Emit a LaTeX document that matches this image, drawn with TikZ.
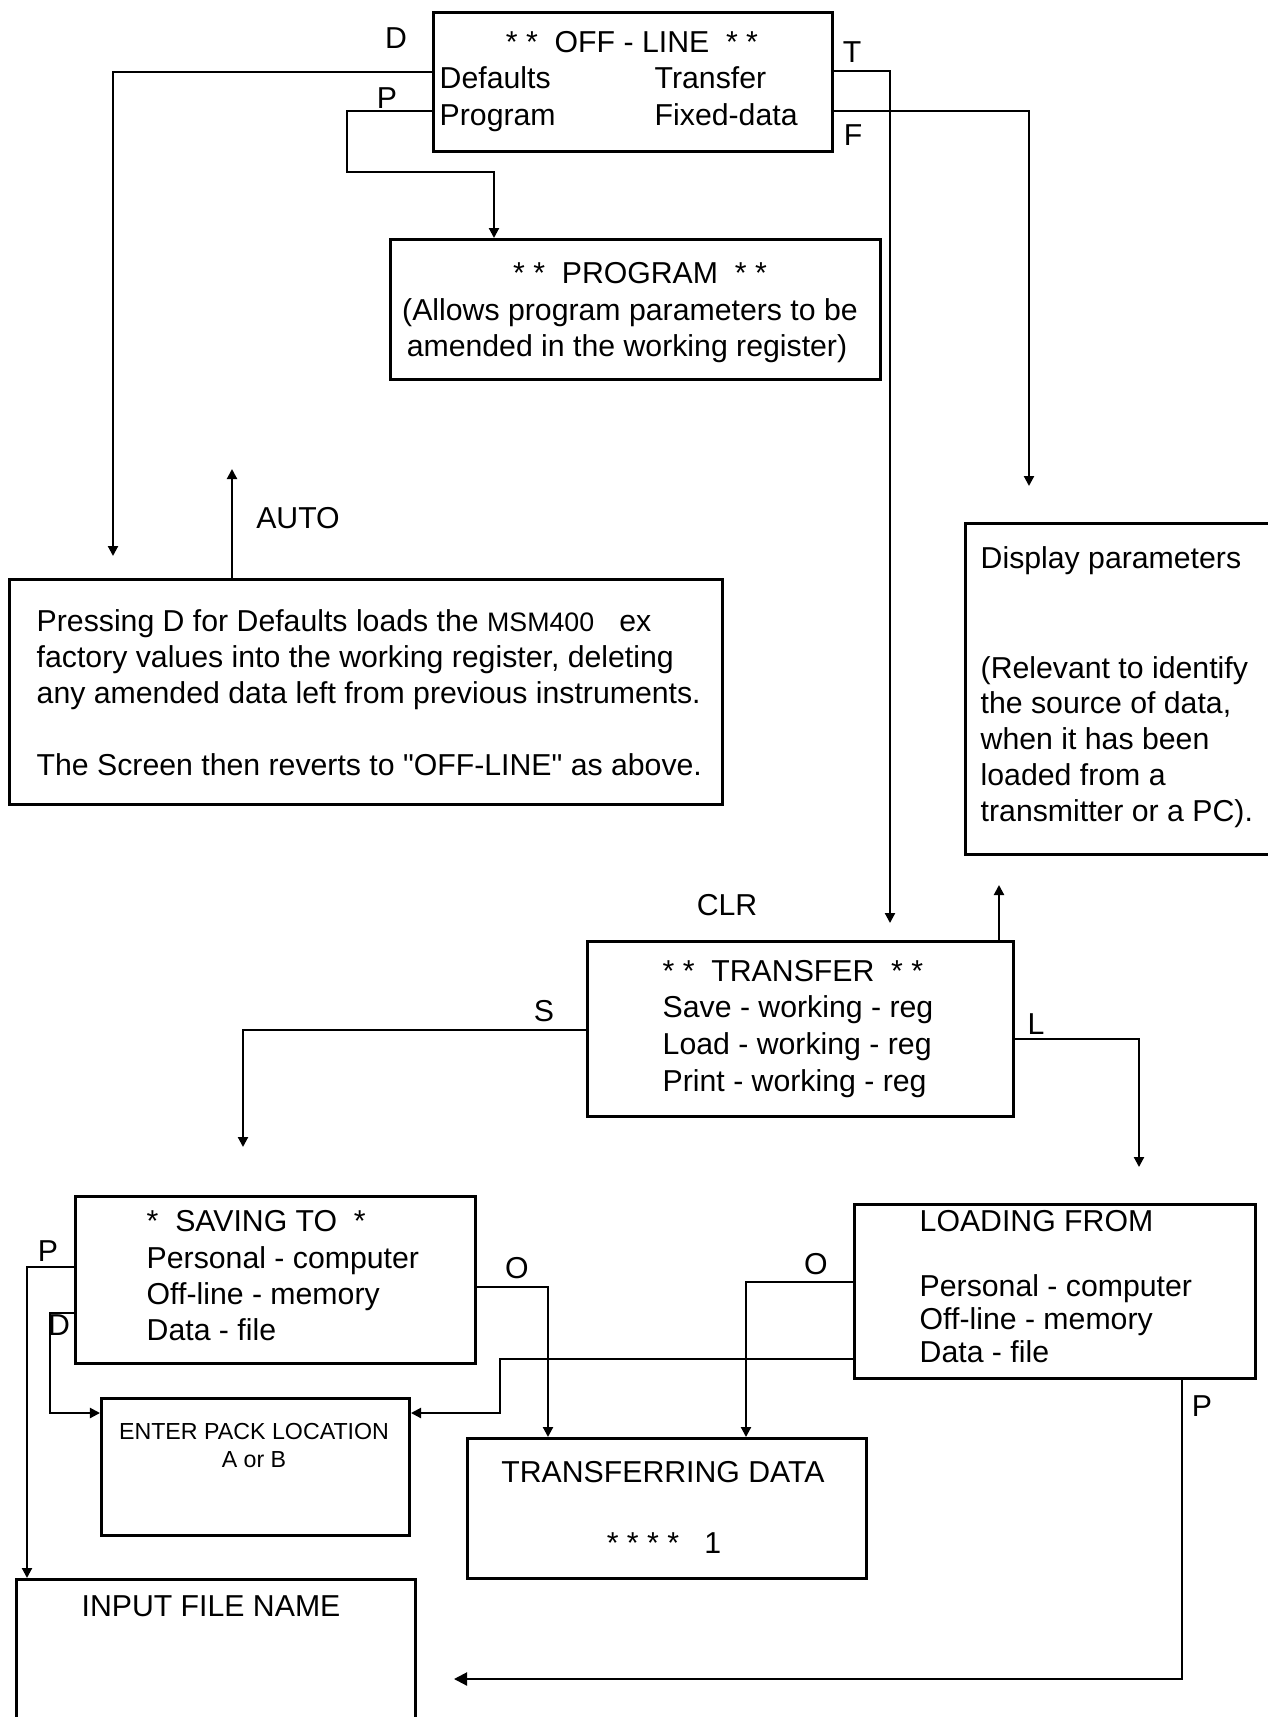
\documentclass[tikz,border=0pt]{standalone}
\usepackage{fontspec}
\setmainfont{Liberation Sans}
\usetikzlibrary{arrows.meta}

\begin{document}
\begin{tikzpicture}[x=0.01cm, y=-0.01cm, font=\fontsize{8.6}{10}\selectfont,
        box/.style={draw, line width=0.8pt, anchor=north west, inner sep=0pt},
        txt/.style={anchor=base west, inner sep=0pt},
        ctr/.style={anchor=base, inner sep=0pt},
        small/.style={font=\fontsize{6.6}{8}\selectfont},
        flow/.style={line width=0.6pt, -{Triangle[length=0.1cm, width=0.1cm]}}]
        \clip (0,0) rectangle (1268,1717);

        \node[box, minimum width=3.99cm, minimum height=1.39cm] (offline) at (432,11) {};
        \node[ctr] (offtitle) at (632,52) {* *\ \ OFF - LINE\ \ * *};
        \node[txt] (defl) at (439,88) {Defaults};
        \node[txt] (progl) at (439,125) {Program};
        \node[txt] (transl) at (654,88) {Transfer};
        \node[txt] (fixl) at (654,125) {Fixed-data};
        \node[ctr] (dkey) at (396,48) {D};
        \node[ctr] (pkey) at (387,108) {P};
        \node[ctr] (tkey) at (852,62) {T};
        \node[ctr] (fkey) at (853,145) {F};

        \node[box, minimum width=4.90cm, minimum height=1.40cm] (program) at (389,238) {};
        \node[ctr] (progtitle) at (640,283) {* *\ \ PROGRAM\ \ * *};
        \node[ctr] (progl1) at (630,320) {(Allows program parameters to be};
        \node[ctr] (progl2) at (627,356) {amended in the working register)};

        \node[box, minimum width=7.13cm, minimum height=2.25cm] (dflt) at (8,578) {};
        \node[txt] (dfltl1) at (36,631) {Pressing D for Defaults loads the {\fontsize{7.6}{9}\selectfont MSM400}\ \ \ ex};
        \node[txt] (dfltl2) at (36,667) {factory values into the working register, deleting};
        \node[txt] (dfltl3) at (36,703) {any amended data left from previous instruments.};
        \node[txt] (dfltl4) at (36,775) {The Screen then reverts to \textquotedbl OFF-LINE\textquotedbl{} as above.};
        \node[ctr] (autokey) at (298,528) {AUTO};

        \node[box, minimum width=3.30cm, minimum height=3.31cm] (display) at (964,522) {};
        \node[txt] (displ1) at (980,568) {Display parameters};
        \node[txt] (displ2) at (980,678) {(Relevant to identify};
        \node[txt] (displ3) at (980,713) {the source of data,};
        \node[txt] (displ4) at (980,749) {when it has been};
        \node[txt] (displ5) at (980,785) {loaded from a};
        \node[txt] (displ6) at (980,821) {transmitter or a PC).};

        \node[box, minimum width=4.26cm, minimum height=1.75cm] (transfer) at (586,940) {};
        \node[txt] (transtitle) at (662,981) {* *\ \ TRANSFER\ \ * *};
        \node[txt] (transl1) at (662,1017) {Save - working - reg};
        \node[txt] (transl2) at (662,1054) {Load - working - reg};
        \node[txt] (transl3) at (662,1091) {Print - working - reg};
        \node[ctr] (clrkey) at (727,915) {CLR};
        \node[ctr] (skey) at (544,1021) {S};
        \node[ctr] (lkey) at (1036,1034) {L};

        \node[box, minimum width=4.00cm, minimum height=1.67cm] (saving) at (74,1195) {};
        \node[txt] (savtitle) at (146,1231) {*\ \ SAVING TO\ \ *};
        \node[txt] (savl1) at (146,1268) {Personal - computer};
        \node[txt] (savl2) at (146,1304) {Off-line - memory};
        \node[txt] (savl3) at (146,1340) {Data - file};
        \node[ctr] (savp) at (48,1261) {P};
        \node[ctr] (savd) at (59,1335) {D};
        \node[ctr] (savo) at (517,1278) {O};

        \node[box, minimum width=4.01cm, minimum height=1.74cm] (loading) at (853,1203) {};
        \node[txt] (loadtitle) at (919,1231) {LOADING FROM};
        \node[txt] (loadl1) at (919,1296) {Personal - computer};
        \node[txt] (loadl2) at (919,1329) {Off-line - memory};
        \node[txt] (loadl3) at (919,1362) {Data - file};
        \node[ctr] (loado) at (816,1274) {O};
        \node[ctr] (loadp) at (1202,1416) {P};

        \node[box, minimum width=3.08cm, minimum height=1.37cm] (enterpack) at (100,1397) {};
        \node[ctr, small] (packl1) at (254,1439) {ENTER PACK LOCATION};
        \node[ctr, small] (packl2) at (254,1467) {A or B};

        \node[box, minimum width=3.99cm, minimum height=1.40cm] (transferring) at (466,1437) {};
        \node[ctr] (tdatal1) at (663,1482) {TRANSFERRING DATA};
        \node[ctr] (tdatal2) at (664,1553) {* * * *\ \ \ 1};

        \node[box, minimum width=3.99cm, minimum height=1.70cm] (inputbox) at (15,1578) {};
        \node[ctr] (inputl) at (211,1616) {INPUT FILE NAME};

        \coordinate (dtip) at (113,556);
        \coordinate (ttip) at (890,923);
        \coordinate (ftip) at (1029,486);
        \coordinate (autotip) at (232,469);
        \coordinate (disptip) at (999,885);
        \coordinate (stip) at (243,1147);
        \coordinate (ltip) at (1139,1167);
        \coordinate (ptip) at (454,1679);

        \draw[flow] (offline.west |- 0,72) -| (dtip);
        \draw[flow] (offline.west |- 0,111) -| (347,172) -| (program.north -| 494,0);
        \draw[flow] (offline.east |- 0,71) -| (ttip);
        \draw[flow] (offline.east |- 0,111) -| (ftip);
        \draw[flow] (dflt.north -| 232,0) -- (autotip);
        \draw[flow] (transfer.north -| 999,0) -- (disptip);
        \draw[flow] (transfer.west |- 0,1030) -| (stip);
        \draw[flow] (transfer.east |- 0,1039) -| (ltip);
        \draw[flow] (saving.west |- 0,1267) -| (inputbox.north -| 27,0);
        \draw[flow] (saving.west |- 0,1313) -| (50,1413) -- (enterpack.west |- 0,1413);
        \draw[flow] (saving.east |- 0,1287) -| (transferring.north -| 548,0);
        \draw[flow] (loading.west |- 0,1282) -| (transferring.north -| 746,0);
        \draw[flow] (loading.west |- 0,1359) -| (500,1413) -- (enterpack.east |- 0,1413);
        \draw[flow, -{Triangle[length=0.13cm, width=0.13cm]}] (loading.south -| 1182,0) |- (ptip);
\end{tikzpicture}
\end{document}
